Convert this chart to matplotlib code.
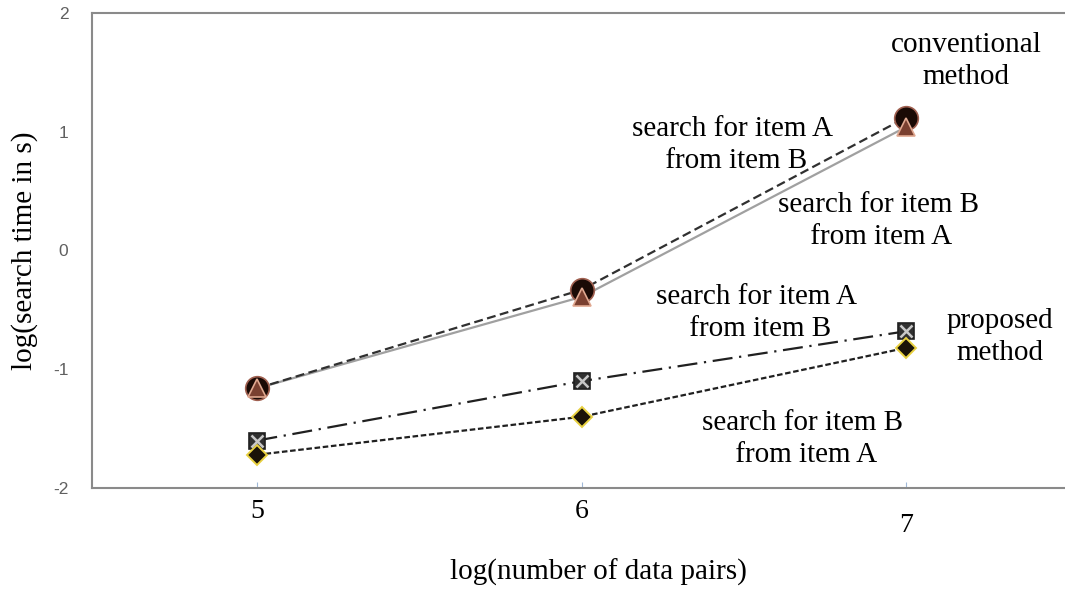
import matplotlib
matplotlib.use("Agg")
import matplotlib.pyplot as plt

x = [5, 6, 7]
conv_a_from_b = [-1.16, -0.33, 1.12]
conv_b_from_a = [-1.16, -0.39, 1.04]
prop_a_from_b = [-1.60, -1.10, -0.68]
prop_b_from_a = [-1.72, -1.40, -0.82]
yticks = [-2, -1, 0, 1, 2]
xticks = [5, 6, 7]

fig = plt.figure(figsize=(10.65, 5.9), dpi=100)
ax = fig.add_axes([92/1065, 1-488/590, (1065-92)/1065, (488-13)/590])

serif = "Liberation Serif"

ax.plot(x, conv_b_from_a, color="#a0a0a0", lw=1.6, ls="-", zorder=2)
ax.plot(x, conv_a_from_b, color="#303030", lw=1.6, ls=(0, (4, 2)), marker="o",
        ms=17, mfc="#1a0a05", mec="#a06050", mew=1.2, zorder=2)
ax.plot(x, conv_b_from_a, ls="none", marker="^", ms=13, mfc="#7a4030",
        mec="#e0a890", mew=1.2, zorder=4)
ax.plot(x, prop_a_from_b, color="#202020", lw=1.6, ls=(0, (9, 3, 1, 3)), marker="s",
        ms=12, mfc="#303030", mec="#202020", mew=1.2, zorder=3)
ax.plot(x, prop_a_from_b, ls="none", marker="x", ms=9, mec="#c8c8c8", mew=1.8, zorder=4)
ax.plot(x, prop_b_from_a, color="#202020", lw=1.6, ls=(0, (2.5, 1.2)), marker="D",
        ms=10, mfc="#1a1208", mec="#e8d040", mew=1.4, zorder=3)

ax.set_xlim(4.49, 7.49)
ax.set_ylim(-2, 2)
ax.set_yticks(yticks)
ax.set_xticks(xticks)
ax.set_xticklabels([str(v) for v in xticks], fontfamily=serif, fontsize=20)
ax.get_xticklabels()[2].set_y(-0.03)
ax.set_yticklabels([str(v) for v in yticks], fontfamily="Liberation Sans",
                   fontsize=12.5, color="#606060")
ax.tick_params(axis="y", length=0, pad=17)
ax.tick_params(axis="x", length=4, direction="in", color="#a0b8d8", pad=8)

for s in ["left", "top", "bottom"]:
    ax.spines[s].set_color("#8a8a8a")
    ax.spines[s].set_linewidth(1.5)
ax.spines["right"].set_visible(False)

ax.set_ylabel("log(search time in s)", fontfamily=serif, fontsize=21, va="center")
ax.yaxis.set_label_coords(-(92-25)/973, 0.5)
ax.set_xlabel("log(number of data pairs)", fontfamily=serif, fontsize=21, va="center")
ax.xaxis.set_label_coords((598-92)/973, -(572-488)/475)

def note(px, py, s, ha="center"):
    fig.text(px/1065, 1-py/590, s, fontfamily=serif, fontsize=21,
             ha=ha, va="center", linespacing=1.3)

note(966, 61, "conventional\nmethod")
note(733, 145, "search for item A\n from item B")
note(878, 221, "search for item B\n from item A")
note(757, 313, "search for item A\n from item B")
note(1000, 337, "proposed\nmethod")
note(803, 439, "search for item B\n from item A")

fig.savefig("out.png", dpi=100)
